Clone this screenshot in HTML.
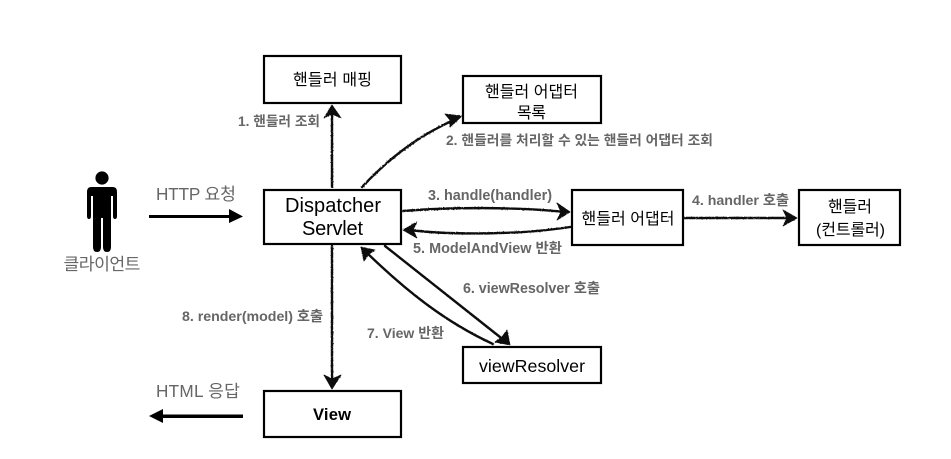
<!DOCTYPE html>
<html><head><meta charset="utf-8">
<style>
html,body{margin:0;padding:0;background:#fff;width:951px;height:459px;overflow:hidden}
svg{display:block}
text{font-family:"Liberation Sans","Noto Sans CJK KR",sans-serif}
.b{fill:#000;font-size:16px;text-anchor:middle}
.l{fill:#666;font-size:14.2px;font-weight:bold}
.h{fill:#666;font-size:17.200px;text-anchor:middle}
.r{fill:#fff;stroke:#000;stroke-width:2.2}
.a{fill:none;stroke:#111;stroke-width:2.4;stroke-linecap:round;stroke-linejoin:round}
.t{fill:#111;stroke:#111;stroke-width:.8;stroke-linejoin:round}
</style></head><body>
<svg width="951" height="459" viewBox="0 0 951 459" xmlns="http://www.w3.org/2000/svg">
<defs><filter id="rough" x="-5%" y="-5%" width="110%" height="110%" filterUnits="objectBoundingBox">
<feTurbulence type="fractalNoise" baseFrequency="0.6" numOctaves="2" seed="3"/>
<feDisplacementMap in="SourceGraphic" scale="1.4"/>
</filter></defs>
<rect class="r" x="264" y="56" width="137" height="47"/>
<rect class="r" x="463" y="76" width="138" height="47"/>
<rect class="r" x="264" y="190" width="137" height="54"/>
<rect class="r" x="572" y="190" width="111" height="55"/>
<rect class="r" x="799" y="190" width="101" height="55"/>
<rect class="r" x="463" y="347" width="138" height="36"/>
<rect class="r" x="264" y="391" width="137" height="46"/>

<text class="b" x="332.500" y="85" textLength="79">핸들러 매핑</text>
<text class="b" x="531.500" y="97" textLength="93">핸들러 어댑터</text>
<text class="b" x="531.500" y="118" textLength="29">목록</text>
<text class="b" x="333" y="212" style="font-size:20px" textLength="96">Dispatcher</text>
<text class="b" x="332.500" y="235" style="font-size:20px" textLength="61">Servlet</text>
<text class="b" x="628" y="224" textLength="93">핸들러 어댑터</text>
<text class="b" x="850" y="212" textLength="44">핸들러</text>
<text class="b" x="850.500" y="235" textLength="69">(컨트롤러)</text>
<text class="b" x="532" y="372" style="font-size:17.800px" textLength="106">viewResolver</text>
<text class="b" x="332" y="420" style="font-weight:bold;font-size:16.600px" textLength="38">View</text>

<g fill="#000">
<circle cx="102" cy="178" r="6.6"/>
<path d="M91 187H113Q117 187 117 192V216Q117 219 115 219Q113 219 113 216V196H111V247Q111 252 107 252Q103 252 103 247V218H101V247Q101 252 97 252Q93 252 93 247V196H91V216Q91 219 89 219Q87 219 87 216V192Q87 187 91 187Z"/>
<path d="M149 215H229V209L243 216.500L229 223V218H149Z"/>
<path d="M243 414.500H163V409L149 416L163 423V418H243Z"/>
</g>
<text class="h" x="102" y="270" textLength="77">클라이언트</text>
<text class="h" x="196" y="200" textLength="80">HTTP 요청</text>
<text class="h" x="198" y="397" textLength="84">HTML 응답</text>

<g filter="url(#rough)">
<path class="a" d="M332 187V110"/><path class="t" d="M332 105L341 118L332 114L324 118Z"/>
<path class="a" d="M362 187C392 155 422 134 456 119"/><path class="t" d="M462 116L450 127L450 120L445 114Z"/>
<path class="a" d="M403 211C450 207 520 207 564 212"/><path class="t" d="M570 212L557 220L561 212L557 203Z"/>
<path class="a" d="M570 227C520 235 450 235 409 230"/><path class="t" d="M403 230L417 222L413 230L417 238Z"/>
<path class="a" d="M684 218H792"/><path class="t" d="M797 218L783 226L787 218L783 210Z"/>
<path class="a" d="M385 246L505 341"/><path class="t" d="M510 345L495 342L502 337L507 330Z"/>
<path class="a" d="M493 344C445 322 405 290 365 251"/><path class="t" d="M361 247L375 250L369 254L364 261Z"/>
<path class="a" d="M332 246V384"/><path class="t" d="M332 389L324 375L332 379L341 375Z"/>
</g>

<text class="l" x="238" y="126" textLength="82" style="font-size:13.700px">1. 핸들러 조회</text>
<text class="l" x="446" y="145" textLength="267" style="font-size:13.800px">2. 핸들러를 처리할 수 있는 핸들러 어댑터 조회</text>
<text class="l" x="428" y="200" textLength="124" style="font-size:14.400px">3. handle(handler)</text>
<text class="l" x="692" y="205" textLength="97">4. handler 호출</text>
<text class="l" x="413" y="253" textLength="149" style="font-size:14.400px">5. ModelAndView 반환</text>
<text class="l" x="463" y="293" textLength="137" style="font-size:14.300px">6. viewResolver 호출</text>
<text class="l" x="367" y="338" textLength="77" style="font-size:14px">7. View 반환</text>
<text class="l" x="182" y="321" textLength="141">8. render(model) 호출</text>
</svg>
</body></html>
